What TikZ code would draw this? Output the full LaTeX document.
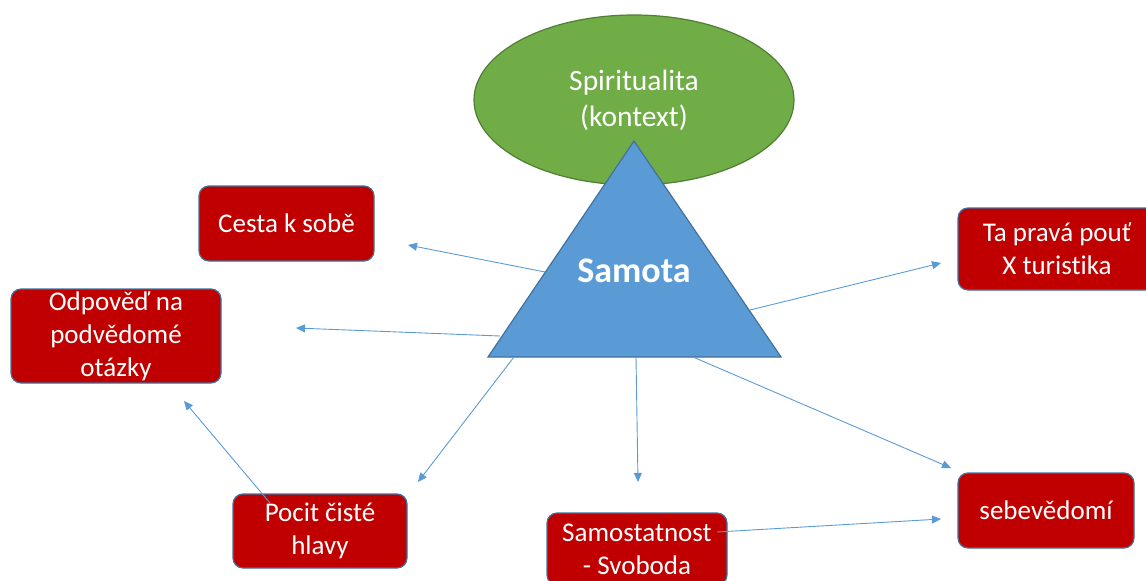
\documentclass[tikz,border=0pt]{standalone}
\usepackage{fontspec}
\setmainfont{Carlito}[Ligatures={NoCommon}]
\usetikzlibrary{shapes.geometric,arrows.meta}
\definecolor{leaf}{HTML}{70AD47}
\definecolor{leafedge}{HTML}{507E32}
\definecolor{sky}{HTML}{5B9BD5}
\definecolor{skyedge}{HTML}{41719C}
\definecolor{brick}{HTML}{C00000}

\begin{document}
\begin{tikzpicture}[x=1pt,y=-1pt,
  card/.style={draw=skyedge, line width=1.2pt, fill=brick, rounded corners=10pt,
    text=white, font=\fontsize{27}{33}\selectfont, align=center, inner sep=0pt},
  link/.style={draw=sky, line width=0.9pt, -{Triangle[length=9pt,width=8pt]}}]

\useasboundingbox (0,0) rectangle (1146,581);

% context ellipse
\node[ellipse, draw=leafedge, line width=1.2pt, fill=leaf, minimum width=320pt,
  minimum height=170pt, text=white, align=center,
  font=\fontsize{29.5}{36}\selectfont] (spirit) at (634,100) {Spiritualita\\(kontext)};

% central triangle
\coordinate (apex) at (634,141);
\coordinate (bl) at (488,357);
\coordinate (br) at (781,357);
\draw[draw=skyedge, line width=1.2pt, fill=sky, line join=miter] (apex) -- (bl) -- (br) -- cycle;
\node[text=white, font=\bfseries\fontsize{36}{40}\selectfont] (samota) at (634,271) {Samota};

% surrounding cards
\node[card, minimum width=175pt, minimum height=75pt] (cesta) at (286.5,223.5) {Cesta k sobě};
\node[card, minimum width=210pt, minimum height=94pt] (odpoved) at (116,336) {Odpověď na\\podvědomé\\otázky};
\node[card, minimum width=174pt, minimum height=74pt] (pocit) at (320,531) {Pocit čisté\\hlavy};
\node[card, minimum width=180pt, minimum height=72pt] (samost) at (637,549) {Samostatnost\\- Svoboda};
\node[card, minimum width=198pt, minimum height=82pt] (pout) at (1057,249) {Ta pravá pouť\\X turistika};
\node[card, minimum width=176pt, minimum height=75pt] (sebe) at (1046,510.5) {sebevědomí};

% connector ends
\coordinate (s1) at (545,272);  \coordinate (t1) at (408,245);
\coordinate (s2) at (500,336);  \coordinate (t2) at (296,328);
\coordinate (s3) at (514,357);  \coordinate (t3) at (418,482);
\coordinate (s4) at (636,357);  \coordinate (t4) at (638,482);
\coordinate (s5) at (693,357);  \coordinate (t5) at (951,468);
\coordinate (s6) at (750,310);  \coordinate (t6) at (941,263);
\coordinate (s7) at (270,503);  \coordinate (t7) at (184,401);
\coordinate (s8) at (717,532);  \coordinate (t8) at (941,519);

% connectors
\draw[link] (s1) -- (t1);
\draw[link] (s2) -- (t2);
\draw[link] (s3) -- (t3);
\draw[link] (s4) -- (t4);
\draw[link] (s5) -- (t5);
\draw[link] (s6) -- (t6);
\draw[link] (s7) -- (t7);
\draw[link] (s8) -- (t8);
\end{tikzpicture}
\end{document}
